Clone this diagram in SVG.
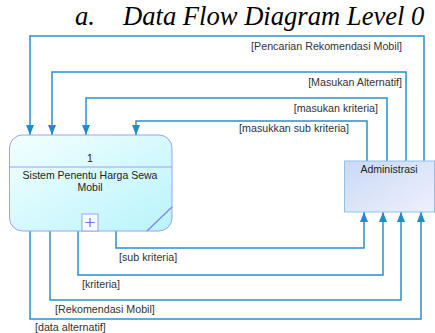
<svg xmlns="http://www.w3.org/2000/svg" width="435" height="333" viewBox="0 0 435 333">
<defs>
<linearGradient id="gp" x1="0" y1="0" x2="1" y2="1">
<stop offset="0" stop-color="#f4ffff"/>
<stop offset="1" stop-color="#b8f4fb"/>
</linearGradient>
<linearGradient id="ga" x1="0" y1="0" x2="1" y2="1">
<stop offset="0" stop-color="#c9d9f6"/>
<stop offset="1" stop-color="#eef0fc"/>
</linearGradient>
<marker id="ah" viewBox="0 0 10 10" refX="10" refY="5" markerWidth="10" markerHeight="10" markerUnits="userSpaceOnUse" orient="auto">
<path d="M0,1 L10,5 L0,9 Z" fill="#1f8ccc"/>
</marker>
<style>
.ln{fill:none;stroke:#2a8fd0;stroke-width:1.5}
.lb{font-family:"Liberation Sans",Arial,sans-serif;font-size:10.7px;fill:#333}
.nt{font-family:"Liberation Sans",Arial,sans-serif;font-size:10.5px;fill:#222}
</style>
</defs>
<rect width="435" height="333" fill="#fff"/>
<text x="75" y="25" font-family="'Liberation Serif',serif" font-style="italic" font-size="26.6" fill="#000">a.</text>
<text x="123" y="25" font-family="'Liberation Serif',serif" font-style="italic" font-size="26.6" fill="#000">Data Flow Diagram Level 0</text>

<g id="connectors">
<path class="ln" d="M424,161 V36 H30 V135" marker-end="url(#ah)"/>
<path class="ln" d="M406,161 V72 H52 V135" marker-end="url(#ah)"/>
<path class="ln" d="M387,161 V98 H86 V135" marker-end="url(#ah)"/>
<path class="ln" d="M367,161 V121 H136 V135" marker-end="url(#ah)"/>
<path class="ln" d="M116,231 V248 H364 V212" marker-end="url(#ah)"/>
<path class="ln" d="M78,231 V275 H383 V212" marker-end="url(#ah)"/>
<path class="ln" d="M50,231 V300 H401 V212" marker-end="url(#ah)"/>
<path class="ln" d="M30,231 V319 H421 V212" marker-end="url(#ah)"/>
<text class="lb" x="402" y="50" text-anchor="end">[Pencarian Rekomendasi Mobil]</text>
<text class="lb" x="402" y="86" text-anchor="end">[Masukan Alternatif]</text>
<text class="lb" x="378" y="112" text-anchor="end">[masukan kriteria]</text>
<text class="lb" x="349" y="132" text-anchor="end">[masukkan sub kriteria]</text>
<text class="lb" x="119" y="261">[sub kriteria]</text>
<text class="lb" x="82" y="288">[kriteria]</text>
<text class="lb" x="55" y="313">[Rekomendasi Mobil]</text>
<text class="lb" x="35" y="331">[data alternatif]</text>
</g>

<g id="process1">
<rect x="9.5" y="135" width="162.5" height="96" rx="13" fill="url(#gp)" stroke="#9f9ff0" stroke-width="1"/>
<line x1="9.5" y1="167" x2="172" y2="167" stroke="#9f9ff0" stroke-width="1"/>
<line x1="147" y1="231" x2="172" y2="207" stroke="#8080e8" stroke-width="1.2"/>
<rect x="82" y="214" width="16" height="17" fill="#f4ffff" stroke="#9f9ff0" stroke-width="1"/>
<path d="M90,218 V227 M85.5,222.5 H94.5" stroke="#7070e0" stroke-width="1.2"/>
<text class="nt" x="90" y="162" text-anchor="middle">1</text>
<text class="nt" x="90" y="179" text-anchor="middle">Sistem Penentu Harga Sewa</text>
<text class="nt" x="90" y="191" text-anchor="middle">Mobil</text>
</g>

<g id="administrasi">
<rect x="344.5" y="161" width="90" height="51" fill="url(#ga)" stroke="#8ec4e6" stroke-width="1"/>
<text class="nt" x="389" y="173" text-anchor="middle">Administrasi</text>
</g>
</svg>
